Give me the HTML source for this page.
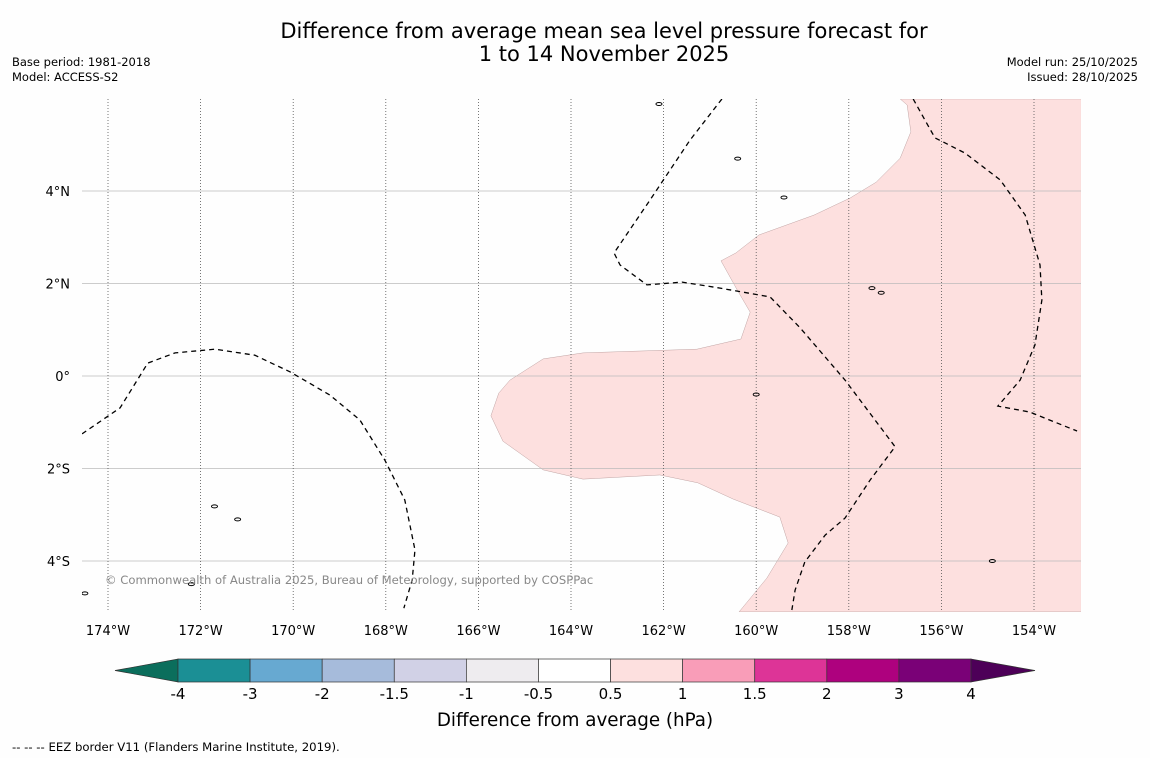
<!DOCTYPE html>
<html><head><meta charset="utf-8">
<style>
body{margin:0;background:#fefefe;font-family:"Liberation Sans","DejaVu Sans",sans-serif;}
#wrap{position:relative;width:1150px;height:758px;overflow:hidden;background:#fefefe;}
svg text{font-family:"DejaVu Sans","Liberation Sans",sans-serif;}
</style></head>
<body>
<div id="wrap">
<svg id="svg" width="1150" height="758" xmlns="http://www.w3.org/2000/svg">
<text x="604" y="38" font-size="21" text-anchor="middle">Difference from average mean sea level pressure forecast for</text>
<text x="604" y="61" font-size="21" text-anchor="middle">1 to 14 November 2025</text>
<text x="12" y="66" font-size="11.5">Base period: 1981-2018</text>
<text x="12" y="81" font-size="11.5">Model: ACCESS-S2</text>
<text x="1138" y="66" font-size="11.5" text-anchor="end">Model run: 25/10/2025</text>
<text x="1138" y="81" font-size="11.5" text-anchor="end">Issued: 28/10/2025</text>
<defs><clipPath id="mapclip"><rect x="82" y="99" width="999" height="513"/></clipPath></defs>
<g id="map" clip-path="url(#mapclip)"></g>
<g id="axes"></g>
<text x="105" y="584" font-size="11.6" fill="#888">© Commonwealth of Australia 2025, Bureau of Meteorology, supported by COSPPac</text>
<g id="cbar"></g>
<text x="575" y="726" font-size="18.3" text-anchor="middle">Difference from average (hPa)</text>
<text x="12" y="751" font-size="11.7">--  --  -- EEZ border V11 (Flanders Marine Institute, 2019).</text>
</svg>
</div>
<script>
const lonTicks=[-174,-172,-170,-168,-166,-164,-162,-160,-158,-156,-154];
const latTicks=[4,2,0,-2,-4];
const latLabels=["4°N","2°N","0°","2°S","4°S"];
const anomLon=[-156.89,-156.74,-156.66,-156.89,-157.41,-157.97,-158.75,-159.94,-160.44,-160.76,-160.41,-160.13,-160.33,-161.28,-163.74,-164.60,-165.32,-165.56,-165.73,-165.47,-164.60,-163.74,-162.08,-161.26,-160.50,-159.49,-159.31,-159.77,-160.37,-152.98,-152.98];
const anomLat=[5.99,5.86,5.28,4.71,4.19,3.85,3.48,3.05,2.66,2.49,1.86,1.38,0.80,0.58,0.50,0.37,-0.09,-0.37,-0.86,-1.41,-2.03,-2.23,-2.14,-2.31,-2.66,-3.05,-3.61,-4.37,-5.10,-5.10,5.99];
const eezALon=[-174.56,-173.74,-173.14,-172.55,-171.69,-170.83,-170.07,-169.21,-168.56,-168.02,-167.59,-167.37,-167.43,-167.61];
const eezALat=[-1.25,-0.69,0.28,0.50,0.58,0.45,0.09,-0.41,-0.95,-1.82,-2.68,-3.76,-4.41,-5.02];
const eezBLon=[-160.74,-161.43,-162.29,-163.07,-162.94,-162.36,-161.60,-160.78,-159.70,-159.05,-158.08,-157.00,-157.54,-158.08,-158.51,-158.95,-159.16,-159.23];
const eezBLat=[5.99,5.10,3.81,2.66,2.40,1.97,2.03,1.90,1.71,1.04,-0.09,-1.53,-2.25,-3.07,-3.44,-4.02,-4.63,-5.06];
const eezCLon=[-156.61,-156.14,-155.49,-154.73,-154.19,-153.87,-153.83,-153.98,-154.30,-154.78,-154.09,-153.07];
const eezCLat=[5.99,5.15,4.82,4.24,3.48,2.40,1.64,0.67,-0.09,-0.65,-0.78,-1.19];
const islandLon=[-171.7,-171.2,-159.4,-157.5,-157.3,-160.4,-172.2,-154.9,-174.5,-162.1,-160.0];
const islandLat=[-2.82,-3.1,3.86,1.9,1.8,4.7,-4.5,-4.0,-4.7,5.88,-0.4];
const cbBounds=["-4","-3","-2","-1.5","-1","-0.5","0.5","1","1.5","2","3","4"];
const cbColors=["#1b8f95","#67a9d1","#a6bbdb","#d1d1e6","#eeecef","#ffffff","#fde0df","#f99db8","#dd3497","#ae017e","#7a0177"];

const NS="http://www.w3.org/2000/svg";
const X=lon=>108+(lon+174)*46.3;
const Y=lat=>376-lat*46.25;
function mk(tag,attrs,parent){const e=document.createElementNS(NS,tag);for(const k in attrs)e.setAttribute(k,attrs[k]);parent.appendChild(e);return e;}
const map=document.getElementById('map'),axes=document.getElementById('axes'),cbar=document.getElementById('cbar');

const poly=mk('polygon',{points:anomLon.map((l,i)=>X(l)+','+Y(anomLat[i])).join(' '),fill:'#fde0df',stroke:'#b09090','stroke-width':0.4},map);



latTicks.forEach((t,i)=>{
 const l=mk('line',{x1:82,x2:1081,y1:Y(t),y2:Y(t),stroke:'#bbb','stroke-width':0.8},map);
 
 
 const tx=mk('text',{x:70,y:Y(t)+5,'font-size':13,'text-anchor':'end'},axes);tx.textContent=latLabels[i];
 
 
});
lonTicks.forEach(t=>{
 const l=mk('line',{x1:X(t),x2:X(t),y1:99,y2:612,stroke:'#555','stroke-width':0.8,'stroke-dasharray':'1,2'},map);
 
 
 const tx=mk('text',{x:X(t),y:635,'font-size':13,'text-anchor':'middle'},axes);tx.textContent=Math.abs(t)+'°W';
 
 
});
[[eezALon,eezALat,'eez-border-west'],[eezBLon,eezBLat,'eez-border-central'],[eezCLon,eezCLat,'eez-border-east']].forEach(([lo,la,n])=>{
 const p=mk('polyline',{points:lo.map((l,i)=>X(l)+','+Y(la[i])).join(' '),fill:'none',stroke:'#000','stroke-width':1.3,'stroke-dasharray':'5,4'},map);
 
 
});
islandLon.forEach((l,i)=>{
 const e=mk('ellipse',{cx:X(l),cy:Y(islandLat[i]),rx:3,ry:1.5,fill:'none',stroke:'#000','stroke-width':1},map);
 
 
});

const cbX0=178,cbW=793/cbColors.length,cbY=659,cbH=23;
const lt=mk('polygon',{points:`115,670.5 ${cbX0},${cbY} ${cbX0},${cbY+cbH}`,fill:'#0b6e5c',stroke:'#333','stroke-width':0.7},cbar);


cbColors.forEach((c,i)=>{
 const r=mk('rect',{x:cbX0+i*cbW,y:cbY,width:cbW,height:cbH,fill:c,stroke:'#333','stroke-width':0.7},cbar);
 
 
});
const rt=mk('polygon',{points:`1035,670.5 ${cbX0+793},${cbY} ${cbX0+793},${cbY+cbH}`,fill:'#4d0058',stroke:'#333','stroke-width':0.7},cbar);


cbBounds.forEach((b,i)=>{
 const t=mk('text',{x:cbX0+i*cbW,y:699,'font-size':15,'text-anchor':'middle'},cbar);t.textContent=b;
 
 
});
</script>
</body></html>
